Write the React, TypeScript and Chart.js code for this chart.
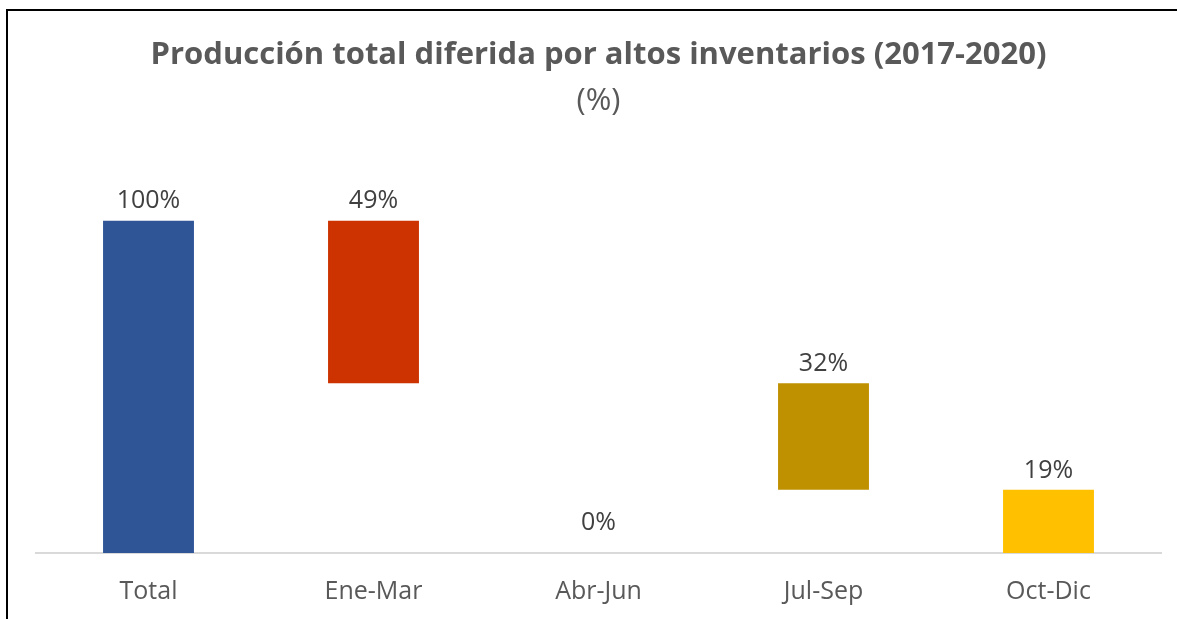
import React, { useEffect, useRef } from "react";
import { Chart, registerables } from "chart.js";

Chart.register(...registerables);

const categories = ["Total", "Ene-Mar", "Abr-Jun", "Jul-Sep", "Oct-Dic"];
const values = [100, 49, 0, 32, 19];
const barColors = ["#2F5597", "#CC3300", "#A5A5A5", "#BF9000", "#FFC000"];
const titleText = "Producción total diferida por altos inventarios (2017-2020)";
const subtitleText = "(%)";

const FONT = "'Open Sans', sans-serif";

// Waterfall: first bar is the total, the rest descend from it.
function buildRanges(vals: number[]): [number, number][] {
  const out: [number, number][] = [];
  let level = vals[0];
  vals.forEach((v, i) => {
    if (i === 0) {
      out.push([0, v]);
    } else if (v === 0) {
      out.push([0, 0]);
    } else {
      out.push([level - v, level]);
      level -= v;
    }
  });
  return out;
}

const labelPlugin = {
  id: "valueLabels",
  afterDatasetsDraw(chart: any) {
    const ctx = chart.ctx;
    const meta = chart.getDatasetMeta(0);
    ctx.save();
    ctx.font = "25px " + FONT;
    ctx.fillStyle = "#404040";
    ctx.textAlign = "center";
    ctx.textBaseline = "alphabetic";
    meta.data.forEach((bar: any, i: number) => {
      const top = Math.min(bar.y, bar.base);
      const gap = values[i] === 0 ? 23 : 12;
      ctx.fillText(values[i] + "%", bar.x, top - gap);
    });
    ctx.restore();
  },
};

export default function App() {
  const ref = useRef<HTMLCanvasElement>(null);
  useEffect(() => {
    if (!ref.current) return;
    const chart = new Chart(ref.current, {
      type: "bar",
      data: {
        labels: categories,
        datasets: [
          {
            data: buildRanges(values) as any,
            backgroundColor: barColors,
            borderWidth: 0,
            categoryPercentage: 1,
            barPercentage: 0.404,
          },
        ],
      },
      options: {
        responsive: false,
        animation: false,
        layout: { padding: { top: 0, left: 36, right: 16, bottom: 12 } },
        plugins: {
          legend: { display: false },
          tooltip: { enabled: false },
          title: {
            display: true,
            text: titleText,
            color: "#595959",
            font: { family: FONT, size: 31, weight: "bold", lineHeight: 1.2 },
            padding: { top: 37, bottom: 6 },
          },
          subtitle: {
            display: true,
            text: subtitleText,
            color: "#595959",
            font: { family: FONT, size: 31, weight: "normal", lineHeight: 1.2 },
            padding: { top: 2, bottom: 101 },
          },
        },
        scales: {
          x: {
            grid: { display: false, drawTicks: true, tickLength: 24 },
            border: { display: true, color: "#D9D9D9", width: 2 },
            ticks: {
              color: "#595959",
              font: { family: FONT, size: 25, lineHeight: 1.2 },
              padding: 0,
            },
          },
          y: {
            display: false,
            min: 0,
            max: 100,
          },
        },
      },
      plugins: [labelPlugin],
    });
    return () => chart.destroy();
  }, []);

  return (
    <div style={{ position: "fixed", left: 0, top: 0, width: 1177, height: 619, background: "#fff", overflow: "hidden" }}>
      <canvas ref={ref} width={1177} height={619} style={{ position: "absolute", left: 0, top: 0 }} />
      <div
        style={{
          position: "absolute",
          left: 6,
          top: 9,
          width: 1200,
          height: 700,
          borderLeft: "2px solid #000",
          borderTop: "2px solid #000",
          pointerEvents: "none",
        }}
      />
    </div>
  );
}
